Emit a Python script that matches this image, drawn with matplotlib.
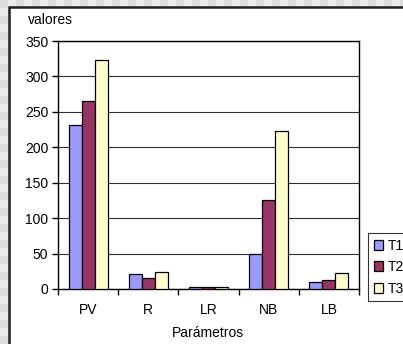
import matplotlib.pyplot as plt
import numpy as np
from matplotlib.patches import Rectangle

# Valores por parámetro y tratamiento
parametros = ['PV', 'R', 'LR', 'NB', 'LB']
t1 = [231, 21, 3, 49, 10]
t2 = [266, 16, 3, 126, 13]
t3 = [323, 24, 3, 223, 23]
series = ['T1', 'T2', 'T3']
colores = ['#9999ff', '#993366', '#ffffcc']

plt.rcParams['font.family'] = ['Liberation Sans', 'DejaVu Sans']

W, H = 403, 344
fig = plt.figure(figsize=(W / 100, H / 100), dpi=100)
fig.patch.set_facecolor('#e6e6e6')

# Borde cuadriculado gris alrededor del gráfico
sq = 8
for i in range(0, W, sq):
    c = '#dcdcdc' if (i // sq) % 2 == 0 else '#ebebeb'
    fig.patches.append(Rectangle((i / W, 1 - 7 / H), sq / W, 7 / H, transform=fig.transFigure,
                                 facecolor=c, edgecolor='none', zorder=-3))
for j in range(0, H, sq):
    c = '#dcdcdc' if (j // sq) % 2 == 0 else '#ebebeb'
    fig.patches.append(Rectangle((0, j / H), 8 / W, sq / H, transform=fig.transFigure,
                                 facecolor=c, edgecolor='none', zorder=-3))

# Área blanca del gráfico
fig.patches.append(Rectangle((9 / W, -0.1), 1.0, 1 - 7 / H + 0.1, transform=fig.transFigure,
                             facecolor='white', edgecolor='#202020', linewidth=1.8, zorder=-2))

left, right, top, bottom = 58, 359, 41, 289
ax = fig.add_axes([left / W, 1 - bottom / H, (right - left) / W, (bottom - top) / H])
ax.set_facecolor('white')

x = np.arange(len(parametros))
w = 0.217
for k, (vals, nombre, col) in enumerate(zip([t1, t2, t3], series, colores)):
    ax.bar(x + (k - 1) * w, vals, width=w, color=col, edgecolor='black', linewidth=0.9,
           label=nombre, zorder=3)

ax.set_xlim(-0.5, len(parametros) - 0.5)
ax.set_ylim(0, 350)
ax.set_yticks(range(0, 351, 50))
ax.set_xticks(x)
ax.set_xticklabels(parametros)
ax.set_xticks(np.arange(-0.5, len(parametros), 1.0), minor=True)
ax.tick_params(axis='x', which='major', length=0, pad=10, labelsize=10)
ax.tick_params(axis='x', which='minor', length=4, width=1, direction='out')
ax.tick_params(axis='y', length=4, width=1, direction='out', pad=3, labelsize=10)
ax.yaxis.grid(True, color='#303030', linewidth=0.8, zorder=0)
ax.set_axisbelow(True)
for s in ax.spines.values():
    s.set_linewidth(1.0)
    s.set_color('black')

fig.text(28 / W, 1 - 20 / H, 'valores', ha='left', va='center', fontsize=10)
fig.text(208 / W, 1 - 333 / H, 'Parámetros', ha='center', va='center', fontsize=10)

leg = fig.legend(loc='upper left', bbox_to_anchor=(368 / W, 1 - 233 / H), frameon=True,
                 fontsize=10, handlelength=0.7, handleheight=0.7, handletextpad=0.3,
                 labelspacing=0.55, borderpad=0.4, borderaxespad=0, fancybox=False)
leg.get_frame().set_edgecolor('black')
leg.get_frame().set_linewidth(0.8)

fig.savefig('out.png', dpi=100, facecolor=fig.get_facecolor())
